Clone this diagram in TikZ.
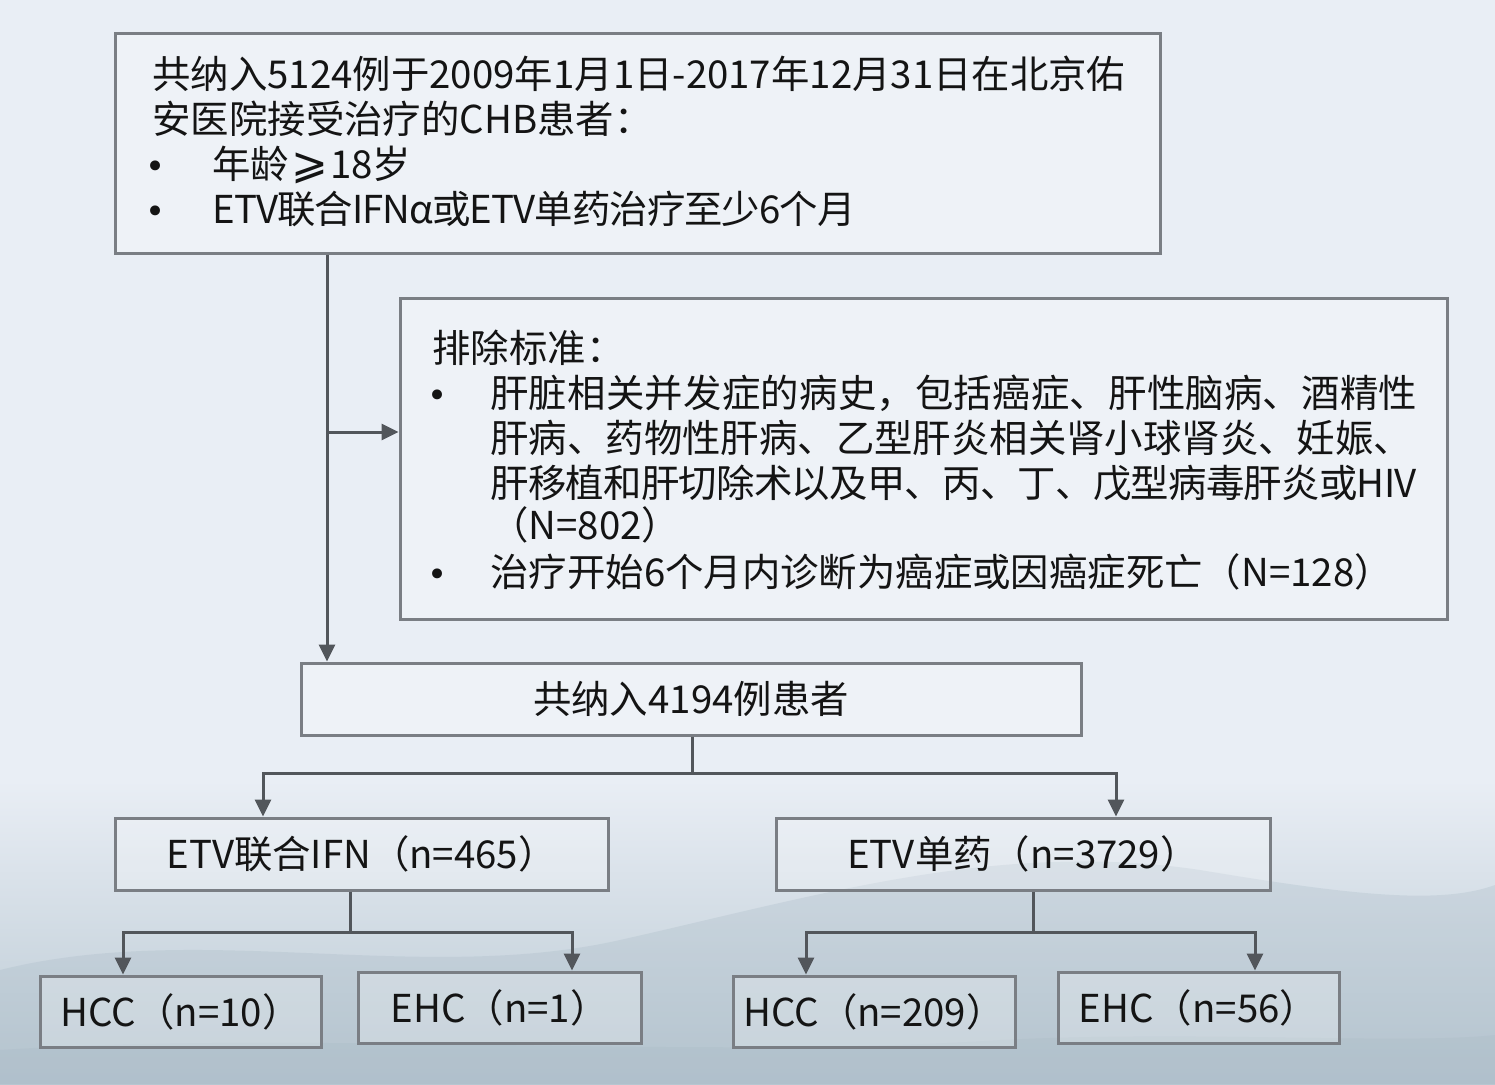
\documentclass[tikz,border=0pt]{standalone}
\usepackage{fontspec}
\setmainfont{Noto Sans CJK SC}
\newfontfamily\djv{DejaVu Sans}
\usetikzlibrary{arrows.meta}
\definecolor{bg}{HTML}{E9EEF5}
\definecolor{bgbot}{HTML}{B9C8D2}
\definecolor{hill}{HTML}{A9BAC6}
\definecolor{boxc}{HTML}{7A7E84}
\definecolor{linec}{HTML}{52565B}
\definecolor{txt}{HTML}{141414}
\begin{document}
\begin{tikzpicture}[x=0.5pt,y=-0.5pt,
  box/.style={draw=boxc, line width=1.5pt, fill=white, fill opacity=.25, text opacity=1,
    inner sep=0pt, text=txt, font=\fontsize{19.2pt}{22.5pt}\selectfont},
  lbl/.style={anchor=base west, inner sep=0pt, text=txt, font=\fontsize{19.2pt}{22.5pt}\selectfont},
  bul/.style={anchor=base, inner sep=0pt, text=txt, font=\djv\fontsize{17pt}{22.5pt}\selectfont},
  conn/.style={draw=linec, line width=1.5pt},
  arr/.style={conn, -{Triangle[length=8.5pt,width=8pt]}}]
% background
\useasboundingbox (0,0) rectangle (1495,1084);
\fill[bg] (0,0) rectangle (1495,1084);
\shade[top color=bg, bottom color=bgbot] (0,780) rectangle (1495,1084);
\fill[hill, opacity=.3] (0,1084) -- (0,970) .. controls (200,920) and (420,985) .. (620,940)
  .. controls (820,895) and (1000,840) .. (1200,870) .. controls (1350,895) and (1440,905) .. (1495,885)
  -- (1495,1084) -- cycle;
\fill[hill, opacity=.3] (0,1084) -- (0,1050) .. controls (300,1030) and (700,1060) .. (1000,1040)
  .. controls (1200,1030) and (1400,1045) .. (1495,1035) -- (1495,1084) -- cycle;

% boxes
\node[box, minimum width=522.5pt, minimum height=110pt] (top) at (637.5,143) {};
\node[box, minimum width=523.5pt, minimum height=160.5pt] (excl) at (923.5,458.5) {};
\node[box, minimum width=390pt, minimum height=36pt] (all) at (691,699) {共纳入4194例患者};
\node[box, minimum width=246.5pt, minimum height=36pt] (ifn) at (361.5,854) {ETV联合IFN（n=465）};
\node[box, minimum width=247pt, minimum height=36pt] (mono) at (1023,854) {ETV单药（n=3729）};
\node[box, minimum width=140.5pt, minimum height=35.5pt] (hcc1) at (180.5,1011.5) {HCC（n=10）};
\node[box, minimum width=141.5pt, minimum height=35.5pt] (ehc1) at (499.5,1007.5) {EHC（n=1）};
\node[box, minimum width=141pt, minimum height=35.5pt] (hcc2) at (874,1011.5) {HCC（n=209）};
\node[box, minimum width=140.5pt, minimum height=35.5pt] (ehc2) at (1198.5,1007.5) {EHC（n=56）};

% top box text
\node[lbl] (t1) at (152,88.5) {共纳入5124例于2009年1月1日-2017年12月31日在北京佑};
\node[lbl] (t2) at (152,133.5) {安医院接受治疗的CHB患者：};
\node[bul] (t3b) at (156,178.5) {•};
\node[lbl] (t3) at (212,178.5) {年龄\kern1pt{\djv\fontsize{22pt}{22.5pt}\selectfont ⩾}\kern1pt 18岁};
\node[bul] (t4b) at (156,223.5) {•};
\node[lbl] (t4) at (212,223.5) {\addfontfeatures{LetterSpace=-2.5}ETV联合IFNα或ETV单药治疗至少6个月};

% exclusion text
\node[lbl] (e0) at (432,362) {排除标准：};
\node[bul] (e1b) at (438,407) {•};
\node[lbl] (e1) at (490,407) {\addfontfeatures{LetterSpace=0.6}肝脏相关并发症的病史，包括癌症、肝性脑病、酒精性};
\node[lbl] (e2) at (490,452) {肝病、药物性肝病、乙型肝炎相关肾小球肾炎、妊娠、};
\node[lbl] (e3) at (490,497) {\addfontfeatures{LetterSpace=-1.9}肝移植和肝切除术以及甲、丙、丁、戊型病毒肝炎或HIV};
\node[lbl] (e4) at (490,539) {（N=802）};
\node[bul] (e5b) at (438,586) {•};
\node[lbl] (e5) at (490,586) {治疗开始6个月内诊断为癌症或因癌症死亡（N=128）};

% connectors
\coordinate (j1) at (327,432);
\draw[conn] (top.south -| j1) -- (j1);
\draw[arr] (j1) -- (j1 |- all.north);
\draw[arr] (j1) -- (excl.west |- j1);

\coordinate (b1) at (692,773);
\coordinate (bL) at (263,773);
\coordinate (bR) at (1116,773);
\draw[conn] (all.south -| b1) -- (b1);
\draw[arr] (b1) -| (bL |- ifn.north);
\draw[arr] (b1) -| (bR |- mono.north);

\coordinate (c1) at (350,932);
\coordinate (cL) at (123,932);
\coordinate (cR) at (572,932);
\draw[conn] (ifn.south -| c1) -- (c1);
\draw[arr] (c1) -| (cL |- hcc1.north);
\draw[arr] (c1) -| (cR |- ehc1.north);

\coordinate (d1) at (1033,932);
\coordinate (dL) at (806,932);
\coordinate (dR) at (1255,932);
\draw[conn] (mono.south -| d1) -- (d1);
\draw[arr] (d1) -| (dL |- hcc2.north);
\draw[arr] (d1) -| (dR |- ehc2.north);
\end{tikzpicture}
\end{document}
